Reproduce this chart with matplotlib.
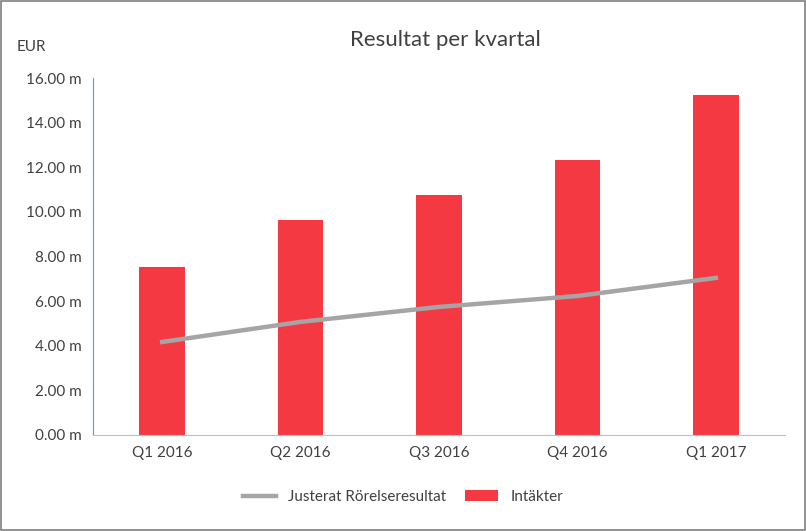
import matplotlib.pyplot as plt
import numpy as np

categories = ['Q1 2016', 'Q2 2016', 'Q3 2016', 'Q4 2016', 'Q1 2017']
intakter = [7.53, 9.64, 10.76, 12.33, 15.25]
rorelse = [4.17, 5.07, 5.74, 6.23, 7.04]

plt.rcParams['font.family'] = 'Lato'
fig = plt.figure(figsize=(8.06, 5.31), dpi=100)
ax = fig.add_axes([0.1154, 0.1808, 0.8586, 0.6723])

x = np.arange(len(categories))
ax.bar(x, intakter, width=0.33, color='#f53942', label='Intäkter', zorder=2)
ax.plot(x, rorelse, color='#a5a5a5', linewidth=3.2, label='Justerat Rörelseresultat', zorder=3)

ax.set_xlim(-0.5, 4.5)
ax.set_ylim(0, 16)
ax.set_yticks(np.arange(0, 17, 2))
ax.set_yticklabels(['%.2f m' % v for v in np.arange(0, 17, 2)])
ax.set_xticks(x)
ax.set_xticklabels(categories)
ax.tick_params(axis='both', length=0, labelsize=11, colors='#404040', pad=8)
for s in ['top', 'right']:
    ax.spines[s].set_visible(False)
ax.spines['left'].set_color('#5b9bd5')
ax.spines['bottom'].set_color('#bfbfbf')

fig.text(0.552, 0.925, 'Resultat per kvartal', ha='center', va='center', fontsize=16, color='#404040')
fig.text(0.021, 0.912, 'EUR', ha='left', va='center', fontsize=11, color='#404040')
fig.legend(loc='center', bbox_to_anchor=(0.5, 0.064), ncol=2, frameon=False, fontsize=11,
           handlelength=2.2, columnspacing=1.2, labelcolor='#404040')

fig.patches.append(plt.Rectangle((0.001, 0.001), 0.998, 0.998, transform=fig.transFigure,
                                 fill=False, edgecolor='#7f7f7f', linewidth=1.2))
fig.savefig('out.png', dpi=100)
